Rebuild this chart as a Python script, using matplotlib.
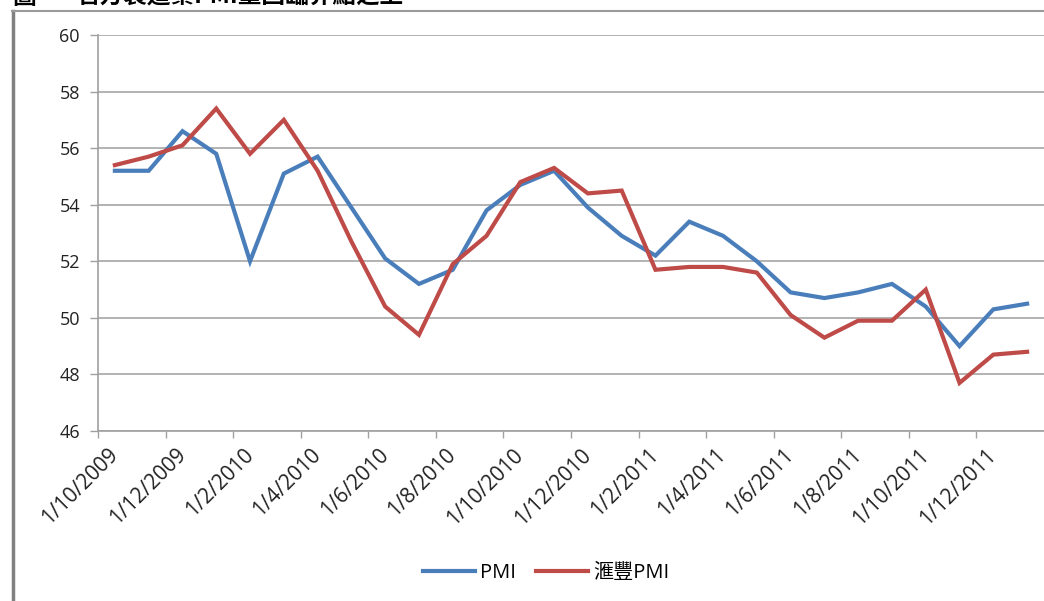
import matplotlib
matplotlib.use("Agg")
import matplotlib.pyplot as plt
import matplotlib.transforms as mtransforms
from matplotlib.lines import Line2D
import numpy as np

plt.rcParams['font.family'] = ['Open Sans', 'Noto Sans CJK TC', 'DejaVu Sans']

# monthly data, Oct 2009 .. Jan 2012
months = ['10/2009', '11/2009', '12/2009', '1/2010', '2/2010', '3/2010', '4/2010',
          '5/2010', '6/2010', '7/2010', '8/2010', '9/2010', '10/2010', '11/2010',
          '12/2010', '1/2011', '2/2011', '3/2011', '4/2011', '5/2011', '6/2011',
          '7/2011', '8/2011', '9/2011', '10/2011', '11/2011', '12/2011', '1/2012']
pmi = [55.2, 55.2, 56.6, 55.8, 52.0, 55.1, 55.7, 53.9, 52.1, 51.2, 51.7, 53.8, 54.7, 55.2,
       53.9, 52.9, 52.2, 53.4, 52.9, 52.0, 50.9, 50.7, 50.9, 51.2, 50.4, 49.0, 50.3, 50.5]
hsbc_pmi = [55.4, 55.7, 56.1, 57.4, 55.8, 57.0, 55.2, 52.7, 50.4, 49.4, 51.9, 52.9, 54.8, 55.3,
            54.4, 54.5, 51.7, 51.8, 51.8, 51.6, 50.1, 49.3, 49.9, 49.9, 51.0, 47.7, 48.7, 48.8]
tick_labels = ['1/10/2009', '1/12/2009', '1/2/2010', '1/4/2010', '1/6/2010', '1/8/2010',
               '1/10/2010', '1/12/2010', '1/2/2011', '1/4/2011', '1/6/2011', '1/8/2011',
               '1/10/2011', '1/12/2011']
yticks = [46, 48, 50, 52, 54, 56, 58, 60]

W, H = 1044, 601
fig = plt.figure(figsize=(W / 100, H / 100), dpi=100)
fig.patch.set_facecolor('white')

ax = fig.add_axes([98 / W, 1 - 431 / H, (W - 98) / W, (431 - 35) / H])
x = np.arange(len(months)) + 0.5
ax.plot(x, pmi, color='#4A7EBB', lw=3.0, label='PMI', solid_joinstyle='miter')
ax.plot(x, hsbc_pmi, color='#BE4B48', lw=3.0, label='滙豐PMI', solid_joinstyle='miter')

ax.set_xlim(0, len(months))
ax.set_ylim(46, 60)
ax.set_yticks(yticks)
ax.set_xticks(np.arange(0, len(months) - 1, 2))
ax.set_xticklabels(tick_labels, rotation=45, ha='right', va='center',
                   rotation_mode='anchor', fontsize=15, color='#222222')
ax.tick_params(axis='y', direction='out', length=6, width=1, color='#A0A0A0',
               pad=7, labelsize=13, labelcolor='#222222')
ax.tick_params(axis='x', direction='out', length=5, width=1, color='#A0A0A0', pad=10)
ax.grid(axis='y', color='#A6A6A6', lw=1.2)
ax.set_axisbelow(True)
for s in ['top', 'right']:
    ax.spines[s].set_visible(False)
for s in ['left', 'bottom']:
    ax.spines[s].set_color('#A0A0A0')
    ax.spines[s].set_linewidth(1.2)

# shift rotated labels a bit right, as in the Excel original
offset = mtransforms.ScaledTranslation(17 / 100, 0, fig.dpi_scale_trans)
for lbl in ax.get_xticklabels():
    lbl.set_transform(lbl.get_transform() + offset)

leg = fig.legend(loc='center', bbox_to_anchor=(546 / W, 1 - 573 / H), ncol=2,
                 frameon=False, fontsize=14.5, handlelength=2.6, handletextpad=0.25,
                 columnspacing=1.0)

# outer chart frame (cut off at right and bottom)
fig.add_artist(Line2D([13 / W, 13 / W], [0, 1 - 11 / H], transform=fig.transFigure,
                      color='#808080', lw=2.5))
fig.add_artist(Line2D([12 / W, 1], [1 - 11 / H, 1 - 11 / H], transform=fig.transFigure,
                      color='#9A9A9A', lw=1.5))

# title, mostly cut off at the top edge
fig.text(12 / W, 1 - 4 / H, '圖一', fontsize=17, fontweight='bold',
         family=['Noto Sans CJK TC'], va='baseline')
fig.text(77 / W, 1 - 4 / H, '官方製造業PMI重回臨界點之上', fontsize=17, fontweight='bold',
         family=['Noto Sans CJK TC'], va='baseline')

fig.savefig('out.png', dpi=100)
